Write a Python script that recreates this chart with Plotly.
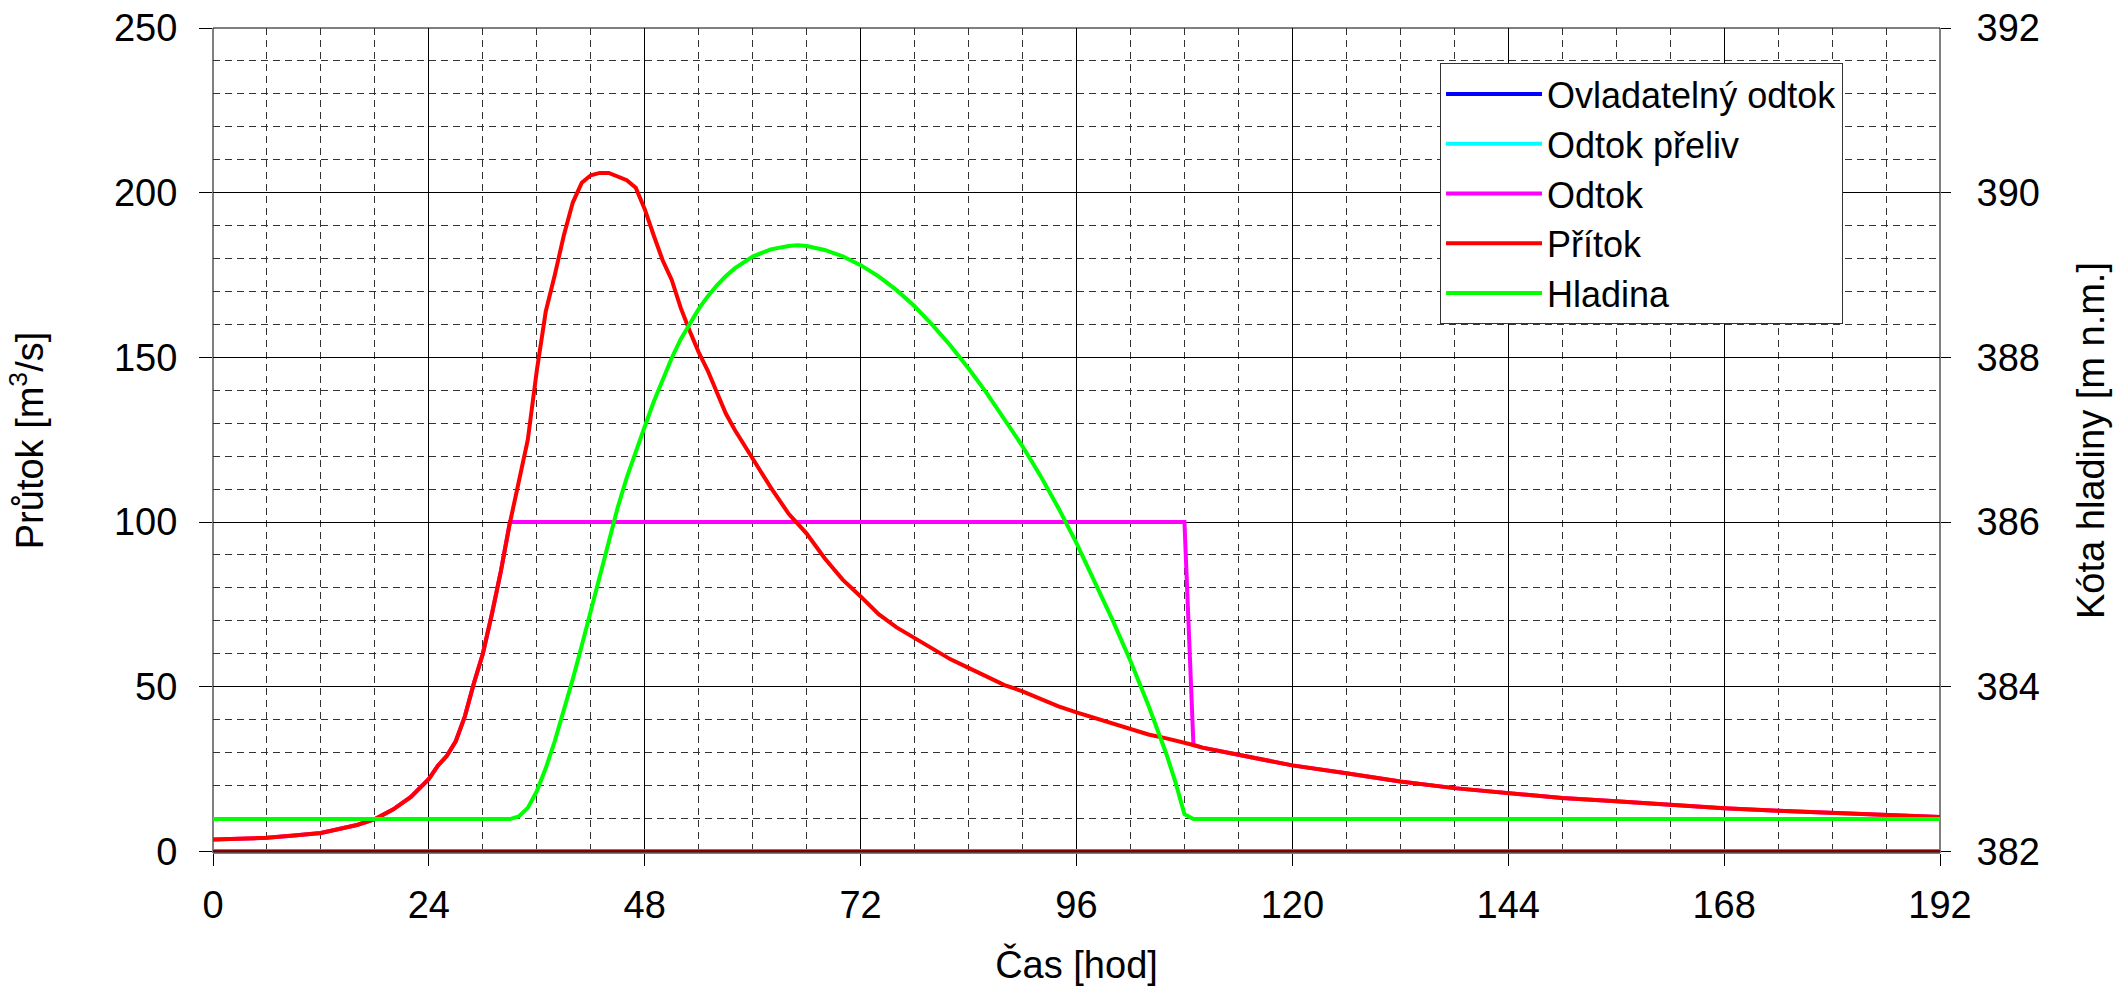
import plotly.graph_objects as go

# ---- data (time in hours) ----
t_inflow = [0, 3, 6, 9, 12, 14, 16, 18, 20, 22, 24, 25, 26, 27, 28, 29, 30, 31, 32, 33,
            34, 35, 36, 37, 38, 39, 40, 41, 42, 43, 44, 45, 46, 47, 48, 49, 50, 51, 52, 53,
            54, 55, 56, 57, 58, 59, 60, 62, 64, 66, 68, 70, 72, 74, 76, 78, 80, 82, 84, 86,
            88, 90, 92, 94, 96, 98, 100, 102, 104, 106, 108, 109, 110, 112, 114, 117, 120,
            126, 132, 138, 144, 150, 156, 162, 168, 174, 180, 186, 192]
q_inflow = [3.6, 3.8, 4.1, 4.8, 5.6, 6.8, 8.0, 9.8, 12.7, 16.5, 22, 26, 29, 33.5, 41, 51, 60, 72, 85, 99.6,
            113, 125, 146, 164, 175, 187, 197, 203, 205.3, 206, 206, 205, 203.8, 201.5, 195, 187, 179.4, 173.5, 165, 158,
            151.5, 146, 139.5, 133, 128, 123.5, 119.3, 110.5, 102.5, 96.5, 89, 82.5, 77.4, 72, 68, 64.7, 61.3, 58.3, 55.7, 53,
            50.5, 48.6, 46.2, 44, 42.2, 40.5, 38.8, 37, 35.5, 34.3, 33.1, 32.3, 31.5, 30.4, 29.3, 27.8, 26.1,
            23.7, 21.2, 19.2, 17.7, 16.2, 15.2, 14.1, 13.1, 12.3, 11.6, 10.9, 10.4]

t_outflow = [0, 3, 6, 9, 12, 14, 16, 18, 20, 22, 24, 25, 26, 27, 28, 29, 30, 31, 32, 33,
             108, 109, 110, 112, 114, 117, 120, 126, 132, 138, 144, 150, 156, 162, 168, 174, 180, 186, 192]
q_outflow = [3.6, 3.8, 4.1, 4.8, 5.6, 6.8, 8.0, 9.8, 12.7, 16.5, 22, 26, 29, 33.5, 41, 51, 60, 72, 85, 100,
             100, 32.3, 31.5, 30.4, 29.3, 27.8, 26.1, 23.7, 21.2, 19.2, 17.7, 16.2, 15.2, 14.1, 13.1, 12.3, 11.6, 10.9, 10.4]

t_zero = [0, 192]
q_controlled = [0, 0]
q_spillway = [0, 0]

t_level = [0, 33, 34, 35, 36, 37, 38, 39, 40, 41, 42, 43, 44, 45, 46, 47, 48, 49, 50, 51,
           52, 53, 54, 55, 56, 57, 58, 60, 62, 64, 65, 66, 68, 70, 72, 74, 76, 78, 80, 82,
           84, 86, 88, 90, 92, 94, 96, 98, 100, 102, 104, 106, 107, 108, 109, 192]
h_level = [382.392, 382.392, 382.424, 382.528, 382.732, 383.012, 383.34, 383.70, 384.092, 384.50,
           384.92, 385.36, 385.792, 386.18, 386.54, 386.86, 387.16, 387.46, 387.74, 387.992,
           388.22, 388.416, 388.588, 388.74, 388.872, 388.984, 389.08, 389.224, 389.312, 389.352,
           389.36, 389.352, 389.304, 389.228, 389.12, 388.984, 388.816, 388.62, 388.392, 388.14,
           387.864, 387.568, 387.252, 386.92, 386.56, 386.168, 385.744, 385.28, 384.812, 384.312,
           383.772, 383.18, 382.84, 382.452, 382.392, 382.392]

x_ticks = [0, 24, 48, 72, 96, 120, 144, 168, 192]
font_family = "Liberation Sans, Arial, sans-serif"
fs = 38

fig = go.Figure()
fig.add_trace(go.Scatter(x=t_zero, y=q_controlled, name="Ovladatelný odtok", mode="lines",
                         line=dict(color="#0000FF", width=4)))
fig.add_trace(go.Scatter(x=t_zero, y=q_spillway, name="Odtok přeliv", mode="lines",
                         line=dict(color="#00FFFF", width=4)))
fig.add_trace(go.Scatter(x=t_outflow, y=q_outflow, name="Odtok", mode="lines",
                         line=dict(color="#FF00FF", width=4)))
fig.add_trace(go.Scatter(x=t_inflow, y=q_inflow, name="Přítok", mode="lines",
                         line=dict(color="#FF0000", width=4)))
fig.add_trace(go.Scatter(x=t_level, y=h_level, name="Hladina", mode="lines", yaxis="y2",
                         line=dict(color="#00FF00", width=4)))

grid_minor = dict(showgrid=True, gridcolor="#333333", griddash="7px,5px", gridwidth=1)

fig.update_layout(
    width=2120, height=986,
    paper_bgcolor="white", plot_bgcolor="white",
    margin=dict(l=213, r=180, t=28, b=133, autoexpand=False),
    font=dict(family=font_family, size=fs, color="black"),
    showlegend=True,
    legend=dict(x=0.7105, y=0.9576, xanchor="left", yanchor="top",
                bgcolor="white", bordercolor="#333333", borderwidth=1,
                font=dict(size=36, family=font_family, color="black"),
                tracegroupgap=0, itemwidth=96),
    xaxis=dict(range=[0, 192], tickvals=x_ticks, showgrid=True, gridcolor="#000000", gridwidth=1,
               minor=dict(dtick=6, tick0=0, **grid_minor),
               ticks="outside", ticklen=12, tickcolor="black", tickwidth=1,
               ticklabelstandoff=6, showline=False, zeroline=False,
               title=dict(text="Čas [hod]", standoff=40, font=dict(size=fs))),
    yaxis=dict(range=[-0.5, 250], tickvals=[0, 50, 100, 150, 200, 250], showgrid=True,
               gridcolor="#000000", gridwidth=1,
               minor=dict(dtick=10, tick0=0, **grid_minor),
               ticks="outside", ticklen=13, tickcolor="black", tickwidth=1,
               ticklabelstandoff=14, showline=False, zeroline=False,
               title=dict(text="Průtok [m<sup>3</sup>/s]", standoff=58, font=dict(size=fs))),
    yaxis2=dict(range=[382 - 0.02, 392], tickvals=[382, 384, 386, 388, 390, 392],
                overlaying="y", side="right", showgrid=False,
                ticks="outside", ticklen=10, tickcolor="black", tickwidth=1,
                ticklabelstandoff=18, zeroline=False, showline=False,
                title=dict(text="Kóta hladiny [m n.m.]", standoff=38, font=dict(size=fs))),
    shapes=[
        # plot frame
        dict(type="rect", xref="paper", yref="paper", x0=0, x1=1, y0=0, y1=1,
             line=dict(color="black", width=1), layer="below"),
        # maroon base (axis) line drawn above the zero-valued series
        dict(type="line", xref="paper", x0=0, x1=1, yref="y", y0=0, y1=0,
             line=dict(color="#800000", width=3), layer="above"),
    ],
)

fig.write_html("out.html", config={"displayModeBar": False},
               post_script="document.body.style.margin='0px';")
